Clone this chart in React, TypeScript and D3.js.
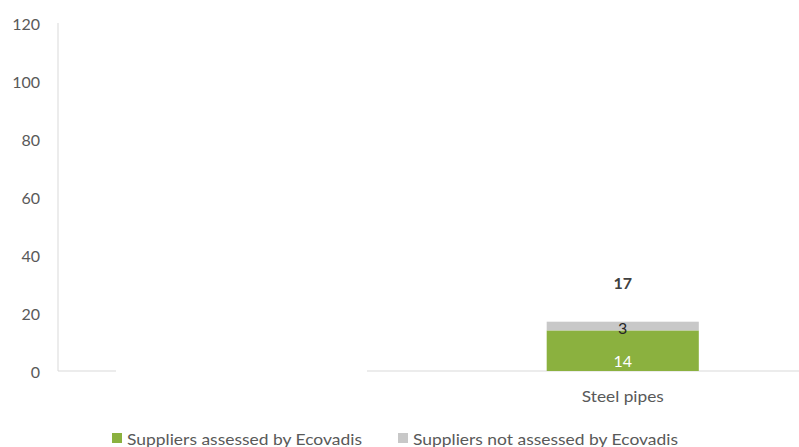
import React from "react";
import * as d3 from "d3";

const categories = ["", "Steel pipes"];
const assessed = [0, 14];
const notAssessed = [0, 3];
const yTicks = [0, 20, 40, 60, 80, 100, 120];
const seriesNames = ["Suppliers assessed by Ecovadis", "Suppliers not assessed by Ecovadis"];
const colors = ["#8BB13F", "#C8C8C8"];

const W = 799;
const H = 447;
const FONT = "Lato, 'Open Sans', sans-serif";

export default function App() {
  const x = d3.scaleBand<string>().domain(categories).range([58, 811]).padding(0);
  const y = d3.scaleLinear().domain([0, 120]).range([371, 23]);
  const barW = x.bandwidth() * 0.404;

  return (
    <svg
      width={W}
      height={H}
      style={{ position: "absolute", left: 0, top: 0, background: "#fff" }}
      fontFamily={FONT}
    >
      {/* y axis line */}
      <line x1={58} x2={58} y1={y(120)} y2={y(0)} stroke="#D9D9D9" strokeWidth={1} />
      {/* x axis line (with gap as in the reference) */}
      <line x1={58} x2={116} y1={y(0)} y2={y(0)} stroke="#D9D9D9" strokeWidth={1} />
      <line x1={367} x2={W} y1={y(0)} y2={y(0)} stroke="#D9D9D9" strokeWidth={1} />

      {yTicks.map((t) => (
        <text
          key={t}
          x={40}
          y={y(t)}
          textAnchor="end"
          dominantBaseline="central"
          fontSize={16}
          fill="#595959"
        >
          {t}
        </text>
      ))}

      {categories.map((c, i) => {
        const cx = (x(c) as number) + x.bandwidth() / 2;
        const total = assessed[i] + notAssessed[i];
        if (total === 0) return null;
        return (
          <g key={i}>
            <rect
              x={cx - barW / 2}
              width={barW}
              y={y(assessed[i])}
              height={y(0) - y(assessed[i])}
              fill={colors[0]}
            />
            <rect
              x={cx - barW / 2}
              width={barW}
              y={y(total)}
              height={y(assessed[i]) - y(total)}
              fill={colors[1]}
            />
            <text x={cx} y={360} textAnchor="middle" dominantBaseline="central" fontSize={16} fill="#fff">
              {assessed[i]}
            </text>
            <text x={cx} y={y(total - notAssessed[i] / 2) + 1} textAnchor="middle" dominantBaseline="central" fontSize={16} fill="#262626">
              {notAssessed[i]}
            </text>
            <text x={cx} y={282} textAnchor="middle" dominantBaseline="central" fontSize={16} fontWeight="bold" fill="#404040">
              {total}
            </text>
            <text
              x={cx}
              y={395}
              textAnchor="middle"
              dominantBaseline="central"
              fontSize={16}
              fill="#595959"
              textLength={82}
              lengthAdjust="spacingAndGlyphs"
            >
              {c}
            </text>
          </g>
        );
      })}

      {/* legend */}
      <rect x={112} y={433} width={10} height={10} fill={colors[0]} />
      <text x={127} y={438} dominantBaseline="central" fontSize={16} fill="#595959" textLength={235} lengthAdjust="spacingAndGlyphs">
        {seriesNames[0]}
      </text>
      <rect x={398} y={433} width={10} height={10} fill={colors[1]} />
      <text x={413} y={438} dominantBaseline="central" fontSize={16} fill="#595959" textLength={265} lengthAdjust="spacingAndGlyphs">
        {seriesNames[1]}
      </text>
    </svg>
  );
}
